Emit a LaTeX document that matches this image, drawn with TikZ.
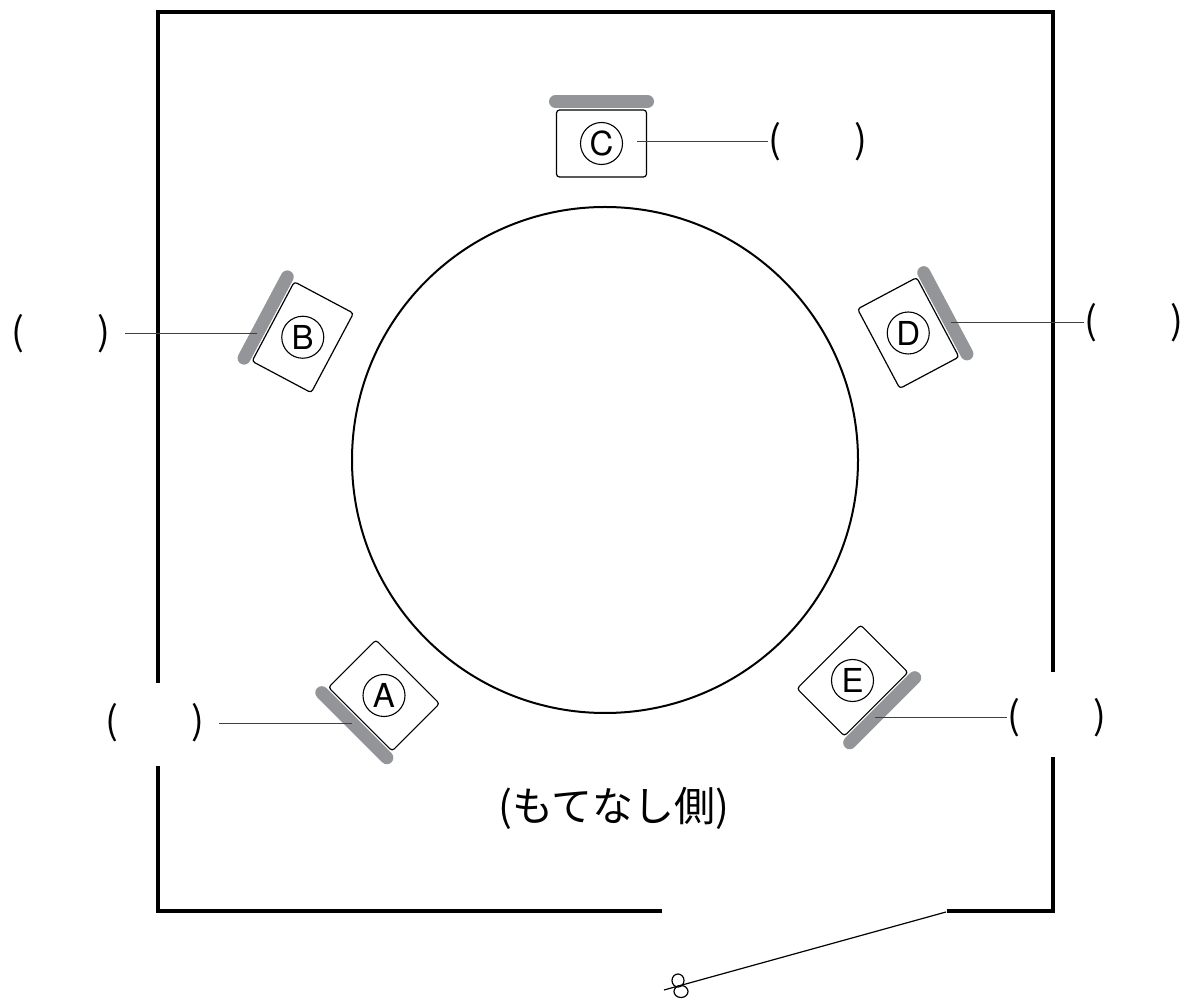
\documentclass[tikz,border=0pt]{standalone}
\usepackage{fontspec}
\setmainfont{TeX Gyre Heros}
\newfontfamily\cjk{Noto Sans CJK JP}
\definecolor{barGray}{RGB}{148,149,153}
\begin{document}
\begin{tikzpicture}[x=0.5pt,y=-0.5pt,
  wall/.style={line width=2pt, line cap=butt, line join=miter},
  tablestyle/.style={circle, draw, line width=1pt, minimum size=253pt, inner sep=0pt},
  chair/.style={rectangle, draw, line width=0.6pt, rounded corners=1.5pt, minimum width=45pt, minimum height=33.5pt, inner sep=0pt, transform shape},
  seatbar/.style={line width=6.5pt, line cap=round, draw=barGray},
  letter/.style={circle, draw, line width=0.55pt, minimum size=21pt, inner sep=0pt, font=\fontsize{16.5pt}{16.5pt}\selectfont},
  paren/.style={inner sep=0pt, font=\cjk\fontsize{19pt}{19pt}\selectfont},
  leader/.style={line width=0.5pt, draw=black!75},
  sidelabel/.style={inner sep=0pt, font=\cjk\fontsize{20.5pt}{20.5pt}\selectfont},
  door/.style={line width=0.6pt},
]
\useasboundingbox (0,0) rectangle (1189,999);

% walls
\draw[wall] (158,683) -- (158,12) -- (1053,12) -- (1053,672);
\draw[wall] (1053,757) -- (1053,911) -- (947,911);
\draw[wall] (662,911) -- (158,911) -- (158,766);

% table
\node[tablestyle] (table) at (605,460) {};

% chairs
\begin{scope}[shift={(601.5,143.5)}, rotate=0]
  \node[chair] (chC) at (0,0) {};
  \coordinate (cC1) at (-46,-42);
  \coordinate (cC2) at (46,-42);
\end{scope}
\begin{scope}[shift={(302.75,337.25)}, rotate=62]
  \node[chair] (chB) at (0,0) {};
  \coordinate (cB1) at (-46,-42);
  \coordinate (cB2) at (46,-42);
\end{scope}
\begin{scope}[shift={(908.25,333)}, rotate=-62]
  \node[chair] (chD) at (0,0) {};
  \coordinate (cD1) at (-46,-42);
  \coordinate (cD2) at (46,-42);
\end{scope}
\begin{scope}[shift={(384,695.5)}, rotate=135]
  \node[chair] (chA) at (0,0) {};
  \coordinate (cA1) at (-46,-42);
  \coordinate (cA2) at (46,-42);
\end{scope}
\begin{scope}[shift={(852.5,680.5)}, rotate=-135]
  \node[chair] (chE) at (0,0) {};
  \coordinate (cE1) at (-46,-42);
  \coordinate (cE2) at (46,-42);
\end{scope}

\draw[seatbar] (cA1) -- (cA2);
\draw[seatbar] (cB1) -- (cB2);
\draw[seatbar] (cC1) -- (cC2);
\draw[seatbar] (cD1) -- (cD2);
\draw[seatbar] (cE1) -- (cE2);

\node[letter] (lA) at (chA.center) {A};
\node[letter] (lB) at (chB.center) {B};
\node[letter] (lC) at (chC.center) {C};
\node[letter] (lD) at (chD.center) {D};
\node[letter] (lE) at (chE.center) {E};

% answer brackets
\node[paren] (pA) at (155,723) {(\hspace{37pt})};
\node[paren] (pB) at (61,334) {(\hspace{37pt})};
\node[paren] (pC) at (818,142) {(\hspace{37pt})};
\node[paren] (pD) at (1134,323) {(\hspace{37pt})};
\node[paren] (pE) at (1057,718) {(\hspace{37pt})};

\coordinate (eA) at (352,723);
\coordinate (eB) at (257,334);
\coordinate (eC) at (637,142);
\coordinate (eD) at (951,323);
\coordinate (eE) at (875,718);

\draw[leader] ([xshift=7pt]pA.east) -- (eA);
\draw[leader] ([xshift=7pt]pB.east) -- (eB);
\draw[leader] (eC) -- (pC.west);
\draw[leader] (eD) -- (pD.west);
\draw[leader] (eE) -- (pE.west);

% label
\node[sidelabel] (side) at (614,808) {(もてなし側)};

% door
\coordinate (doorHinge) at (946,912);
\coordinate (doorEnd) at (664,990);
\draw[door] (doorHinge) -- (doorEnd);
\draw[door] (678,980.5) ellipse [x radius=3pt, y radius=3.25pt];
\draw[door] (681,991.5) ellipse [x radius=3.5pt, y radius=3pt];
\end{tikzpicture}
\end{document}
